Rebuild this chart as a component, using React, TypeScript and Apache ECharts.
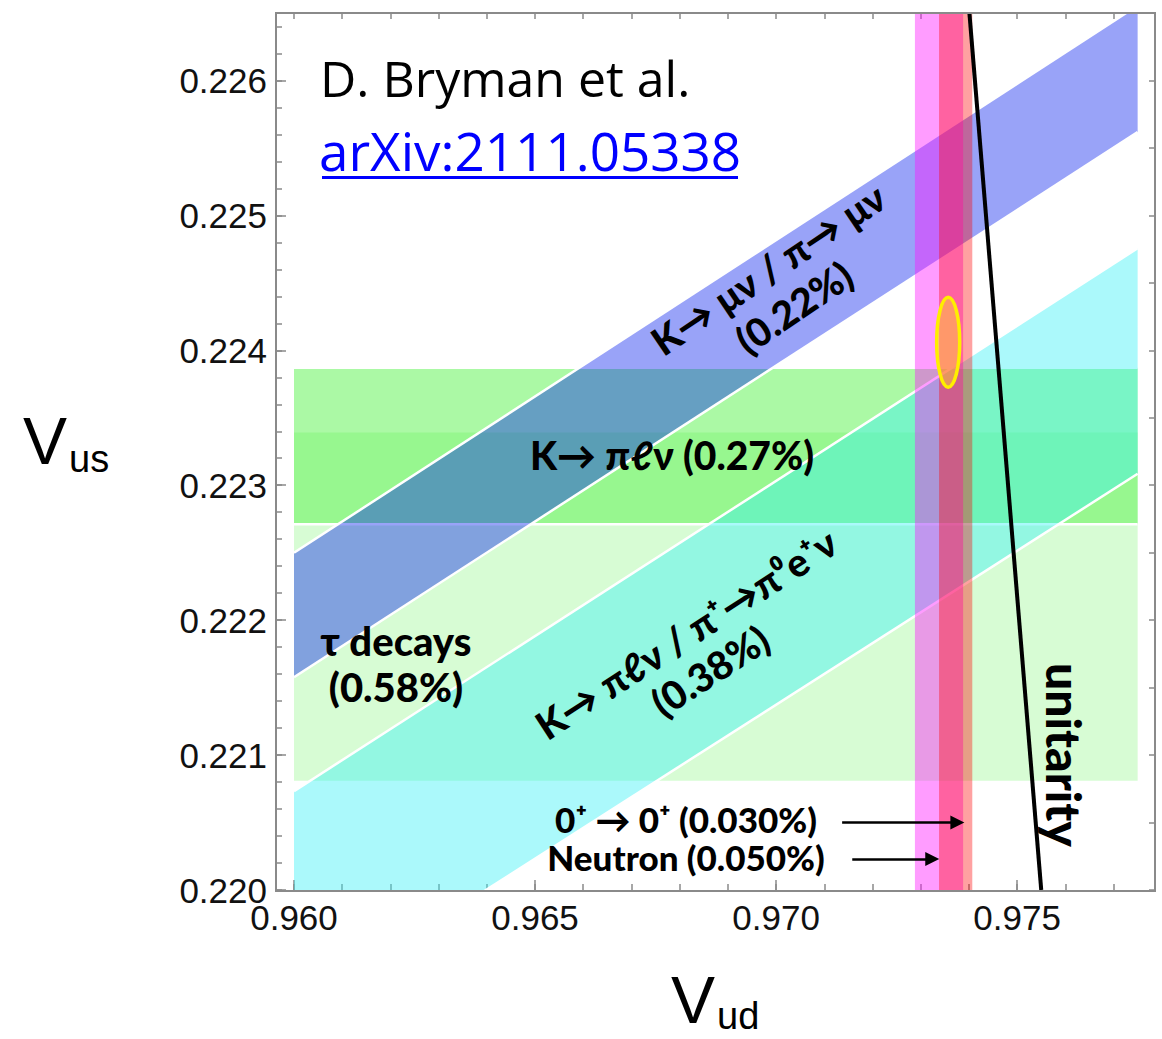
import React, { useEffect, useRef } from "react";
import * as echarts from "echarts";

// ---- data ----
const axisVud = [0.96, 0.97786]; // x-axis extent
const axisVus = [0.22, 0.2265]; // y-axis extent
const bandVud = [0.96, 0.9775]; // horizontal/diagonal bands span
const kmunuRatio = [0.23081, 0.23177]; // K→μν / π→μν : Vus/Vud band
const kpilnuRatio = [0.22822, 0.22993]; // K→πℓν / π+→π0e+ν : Vus/Vud band
const kl3Vus = [0.22271, 0.22387]; // K→πℓν (0.27%)
const tauVus = [0.22081, 0.22339]; // τ decays (0.58%)
const neutronVud = [0.97288, 0.97388]; // Neutron (0.050%)
const superallowedVud = [0.97338, 0.97407]; // 0+→0+ (0.030%)
const unitarityVud = [0.9755, 0.97401];
const unitarityVus = [0.22, 0.2265];
const fitCenter = [0.97357, 0.22406];
const fitHalf = [0.000239, 0.000333];
const arrowFromVud = [0.97137, 0.97158];
const arrowToVud = [0.97376, 0.97324];
const arrowVus = [0.2205, 0.22023];

const GRID = { left: 294, top: 13, width: 861, height: 877 };
const tickColor = "#8a8a8a";
const labelFont = '"Liberation Sans", Arial, sans-serif';
const boldFont = 'Lato, "DejaVu Sans", sans-serif';
const titleFont = '"Open Sans", "Noto Sans", sans-serif';
const axisTitleFont = '"Liberation Sans", Arial, sans-serif';

function bandSeries(poly: number[][], fill: string, edges: number[][][]) {
  return {
    type: "custom",
    coordinateSystem: "cartesian2d",
    xAxisIndex: 0,
    yAxisIndex: 0,
    clip: true,
    silent: true,
    data: [[poly[0][0], poly[0][1]]],
    renderItem: (_p: any, api: any) => ({
      type: "group",
      children: [
        { type: "polygon", shape: { points: poly.map((p) => api.coord(p)) }, style: { fill } },
        ...edges.map((e) => ({
          type: "polyline",
          shape: { points: e.map((p) => api.coord(p)) },
          style: { stroke: "#ffffff", lineWidth: 2.5, fill: null },
        })),
      ],
    }),
  };
}

function hBand(v: number[], fill: string, withEdges: boolean) {
  const [x0, x1] = bandVud;
  const poly = [[x0, v[0]], [x1, v[0]], [x1, v[1]], [x0, v[1]]];
  const edges = withEdges ? [[[x0, v[0]], [x1, v[0]]], [[x0, v[1]], [x1, v[1]]]] : [];
  return bandSeries(poly, fill, edges);
}

function dBand(r: number[], fill: string) {
  const [x0, x1] = bandVud;
  const lo = [[x0, r[0] * x0], [x1, r[0] * x1]];
  const hi = [[x0, r[1] * x0], [x1, r[1] * x1]];
  const poly = [lo[0], lo[1], hi[1], hi[0]];
  return bandSeries(poly, fill, [lo, hi]);
}

function vBand(u: number[], fill: string) {
  const [y0, y1] = axisVus;
  const poly = [[u[0], y0], [u[1], y0], [u[1], y1], [u[0], y1]];
  return bandSeries(poly, fill, []);
}

const xLabel = (v: number) => (Math.round(v * 1e5) % 500 === 0 ? v.toFixed(3) : "");
const yLabel = (v: number) => (Math.round(v * 1e5) % 100 === 0 ? v.toFixed(3) : "");

function txt(x: number, y: number, text: string, size: number, opts: any = {}) {
  return {
    type: "text",
    x,
    y,
    z: 100,
    rotation: opts.rotation || 0,
    silent: true,
    style: {
      text,
      fontSize: size,
      fontWeight: opts.weight || 900,
      fontFamily: opts.family || boldFont,
      fill: opts.color || "#000",
      align: opts.align || "center",
      verticalAlign: "middle",
      lineHeight: opts.lineHeight,
    },
  };
}

export default function App() {
  const ref = useRef<HTMLDivElement>(null);
  useEffect(() => {
    document.body.style.margin = "0";
    const chart = echarts.init(ref.current!, null, { renderer: "svg" });
    const common = { type: "value", min: axisVud[0], max: axisVud[1], splitLine: { show: false }, axisLine: { show: false } };
    const commonY = { type: "value", min: axisVus[0], max: axisVus[1], splitLine: { show: false }, axisLine: { show: false } };
    const option: any = {
      animation: false,
      backgroundColor: "#ffffff",
      grid: [
        { ...GRID, containLabel: false },
        { ...GRID, containLabel: false },
      ],
      xAxis: [
        {
          ...common,
          gridIndex: 0,
          position: "bottom",
          interval: 0.001,
          axisTick: { inside: true, length: 6, lineStyle: { color: tickColor, width: 1.5 } },
          axisLabel: { formatter: xLabel, fontSize: 35, fontFamily: labelFont, color: "#111", margin: 10 },
        },
        {
          ...common,
          gridIndex: 0,
          position: "top",
          interval: 0.001,
          axisTick: { inside: true, length: 6, lineStyle: { color: tickColor, width: 1.5 } },
          axisLabel: { show: false },
        },
        {
          ...common,
          gridIndex: 1,
          position: "bottom",
          interval: 0.005,
          axisTick: { inside: true, length: 10, lineStyle: { color: tickColor, width: 1.5 } },
          axisLabel: { show: false },
        },
      ],
      yAxis: [
        {
          ...commonY,
          gridIndex: 0,
          position: "left",
          offset: 18,
          interval: 0.0002,
          axisTick: { inside: true, length: 6, lineStyle: { color: tickColor, width: 1.5 } },
          axisLabel: { formatter: yLabel, fontSize: 35, fontFamily: labelFont, color: "#111", margin: 9 },
        },
        {
          ...commonY,
          gridIndex: 0,
          position: "right",
          interval: 0.0005,
          axisTick: { inside: true, length: 6, lineStyle: { color: tickColor, width: 1.5 } },
          axisLabel: { show: false },
        },
        {
          ...commonY,
          gridIndex: 1,
          position: "left",
          offset: 18,
          interval: 0.001,
          axisTick: { inside: true, length: 10, lineStyle: { color: tickColor, width: 1.5 } },
          axisLabel: { show: false },
        },
      ],
      series: [
        hBand(tauVus, "rgba(84,243,71,0.23)", false),
        hBand(kl3Vus, "rgba(84,243,71,0.49)", true),
        dBand(kmunuRatio, "rgba(0,25,237,0.4)"),
        dBand(kpilnuRatio, "rgba(50,240,245,0.41)"),
        vBand(neutronVud, "rgba(255,18,255,0.42)"),
        vBand(superallowedVud, "rgba(255,0,0,0.37)"),
        {
          type: "custom",
          coordinateSystem: "cartesian2d",
          clip: true,
          silent: true,
          data: [[fitCenter[0], fitCenter[1], fitHalf[0], fitHalf[1]]],
          renderItem: (_p: any, api: any) => {
            const c = api.coord([api.value(0), api.value(1)]);
            const s = api.size([api.value(2), api.value(3)]);
            return {
              type: "ellipse",
              shape: { cx: c[0], cy: c[1], rx: s[0], ry: s[1] },
              style: { fill: "rgba(255,220,40,0.45)", stroke: "#ffee00", lineWidth: 3.5 },
            };
          },
        },
        {
          type: "line",
          data: unitarityVud.map((u, i) => [u, unitarityVus[i]]),
          showSymbol: false,
          symbol: "none",
          clip: true,
          silent: true,
          lineStyle: { color: "#000", width: 4 },
        },
        {
          type: "lines",
          coordinateSystem: "cartesian2d",
          silent: true,
          symbol: ["none", "triangle"],
          symbolSize: [12, 14],
          lineStyle: { color: "#000", width: 2.5, opacity: 1 },
          data: arrowVus.map((v, i) => ({ coords: [[arrowFromVud[i], v], [arrowToVud[i], v]] })),
        },
      ],
      graphic: [
        {
          type: "rect",
          z: 100,
          silent: true,
          shape: { x: 276, y: 13, width: 879, height: 878 },
          style: { fill: "none", stroke: tickColor, lineWidth: 2 },
        },
        txt(320, 78, "D. Bryman et al.", 50, { weight: "normal", family: titleFont, align: "left" }),
        txt(319, 150, "arXiv:2111.05338", 53, { weight: "normal", family: titleFont, align: "left", color: "#0000ff" }),
        {
          type: "line",
          z: 100,
          silent: true,
          shape: { x1: 322, y1: 177.5, x2: 738, y2: 177.5 },
          style: { stroke: "#0000ff", lineWidth: 3 },
        },
        txt(781, 288, "K→ μν / π→ μν\n(0.22%)", 39, { rotation: (34 * Math.PI) / 180, lineHeight: 46 }),
        txt(672, 455, "K→ πℓν (0.27%)", 39),
        txt(698, 652, "K→ πℓν / π⁺→π⁰e⁺ν\n(0.38%)", 39, { rotation: (33 * Math.PI) / 180, lineHeight: 44 }),
        txt(396, 664, "τ decays\n(0.58%)", 40, { lineHeight: 46 }),
        txt(686, 819, "0⁺ → 0⁺ (0.030%)", 35, { lineHeight: 34 }),
        txt(686, 857, "Neutron (0.050%)", 35, { lineHeight: 34 }),
        txt(1064, 755, "unitarity", 48, { rotation: -Math.PI / 2 }),
        txt(23, 441, "V", 66, { weight: "normal", family: axisTitleFont, align: "left", lineHeight: 52 }),
        txt(69, 459, "us", 38, { weight: "normal", family: axisTitleFont, align: "left", lineHeight: 32 }),
        txt(671, 1000, "V", 66, { weight: "normal", family: axisTitleFont, align: "left", lineHeight: 52 }),
        txt(717, 1016, "ud", 38, { weight: "normal", family: axisTitleFont, align: "left", lineHeight: 32 }),
      ],
    };
    chart.setOption(option);
    return () => chart.dispose();
  }, []);
  return <div ref={ref} style={{ width: 1162, height: 1039 }} />;
}
